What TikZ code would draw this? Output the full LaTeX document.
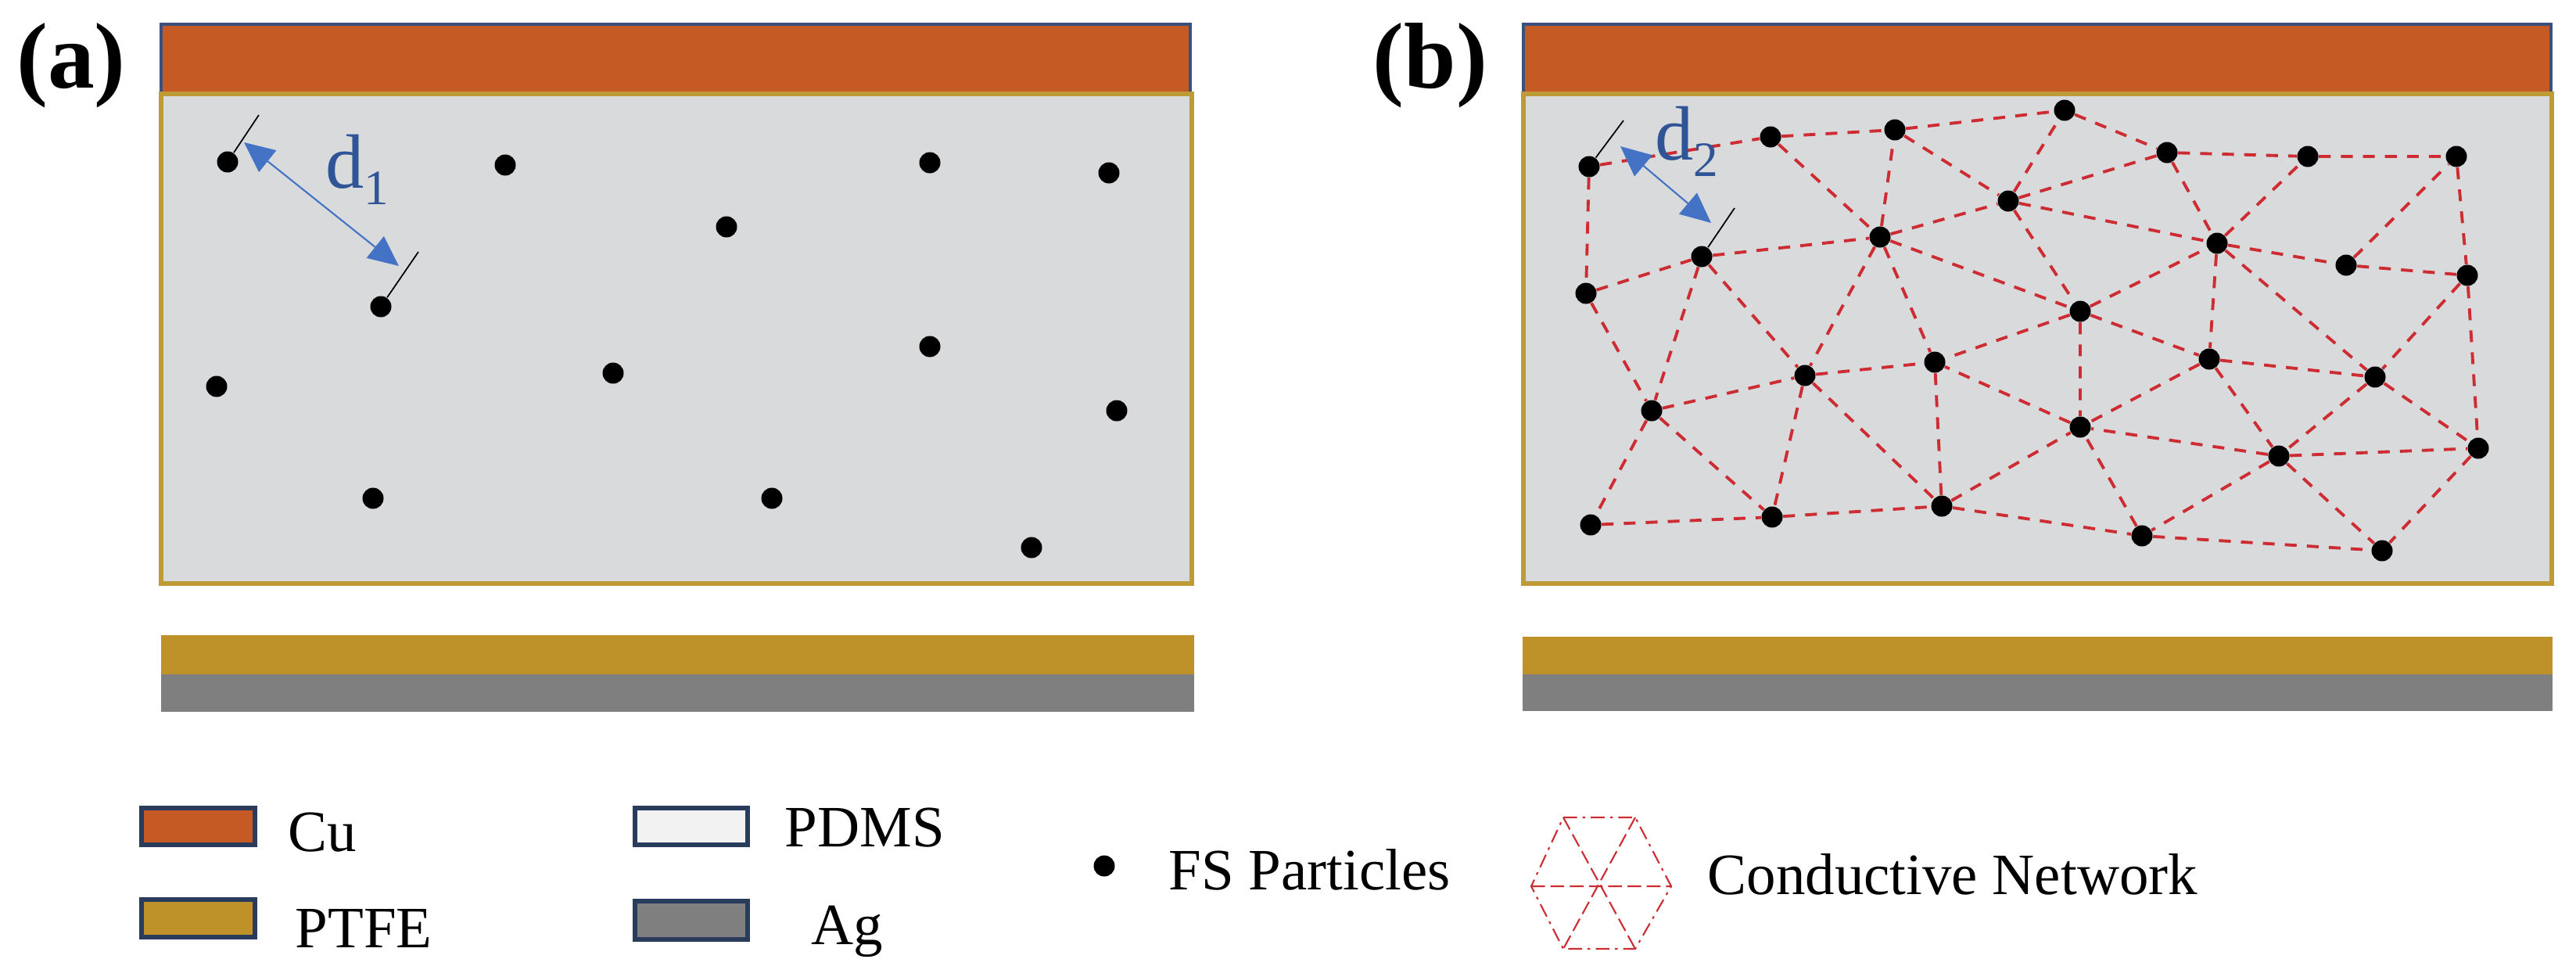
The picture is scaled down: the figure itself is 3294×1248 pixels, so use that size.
\documentclass[tikz,border=0pt]{standalone}
\usepackage{fontspec}
\setmainfont{Liberation Serif}
\usepackage{xcolor}
\usepackage{tikz}
\usetikzlibrary{arrows.meta}
\definecolor{CobreCapa}{RGB}{197,90,36}
\definecolor{TefCapa}{RGB}{190,146,40}
\definecolor{PlataCapa}{RGB}{127,127,127}
\definecolor{MatrizGris}{RGB}{217,218,220}
\definecolor{BordeOro}{RGB}{190,155,55}
\definecolor{BordeAzul}{RGB}{60,80,125}
\definecolor{BordeLeyenda}{RGB}{42,60,92}
\definecolor{AzulFlecha}{RGB}{68,114,196}
\definecolor{AzulTexto}{RGB}{47,85,151}
\definecolor{RojoRed}{RGB}{205,45,50}
\newcommand{\subind}[1]{\raisebox{-6pt}{\fontsize{18}{20}\selectfont #1}}
\tikzset{
  particula/.style={circle,fill=black,inner sep=0pt,minimum size=27*0.01cm},
  enlace/.style={RojoRed,line width=1.1pt,dash pattern=on 4.3pt off 3.7pt},
  tick/.style={black,line width=0.5pt},
  distancia/.style={{Triangle[length=11pt,width=10pt]}-{Triangle[length=11pt,width=10pt]},AzulFlecha,line width=0.6pt},
  muestra/.style={draw=BordeLeyenda,line width=1.6pt},
  leyenda/.style={inner sep=0pt,anchor=base west,font=\fontsize{21.3}{25}\selectfont},
  panel/.style={inner sep=0pt,font=\fontsize{34}{40}\selectfont\bfseries},
  etiqueta/.style={inner sep=0pt,anchor=base west,AzulTexto,font=\fontsize{28}{32}\selectfont},
}
\begin{document}
\begin{tikzpicture}[x=0.01cm,y=-0.01cm,>=Latex]
  \useasboundingbox (0,0) rectangle (3294,1248);
  \node[panel] (la) at (91,84) {(a)};
  \node[panel] (lb) at (1829,84) {(b)};

  \fill[MatrizGris] (206,120) rectangle (1524,746);
  \draw[BordeAzul,line width=1.2pt,fill=CobreCapa] (206,31) rectangle (1522,120);
  \draw[BordeOro,line width=1.8pt] (206,120) rectangle (1524,746);
  \fill[TefCapa] (206,812) rectangle (1527,862);
  \fill[PlataCapa] (206,862) rectangle (1527,910);

  \fill[MatrizGris] (1948,120) rectangle (3263,746);
  \draw[BordeAzul,line width=1.2pt,fill=CobreCapa] (1948,31) rectangle (3262,120);
  \draw[BordeOro,line width=1.8pt] (1948,120) rectangle (3263,746);
  \fill[TefCapa] (1947,814) rectangle (3264,862);
  \fill[PlataCapa] (1947,862) rectangle (3264,909);

  \node[particula] (a1) at (291,207) {};
  \node[particula] (a2) at (646,211) {};
  \node[particula] (a3) at (1189,208) {};
  \node[particula] (a4) at (1418,221) {};
  \node[particula] (a5) at (929,290) {};
  \node[particula] (a6) at (487,392) {};
  \node[particula] (a7) at (277,494) {};
  \node[particula] (a8) at (784,477) {};
  \node[particula] (a9) at (1189,443) {};
  \node[particula] (a10) at (1428,525) {};
  \node[particula] (a11) at (477,637) {};
  \node[particula] (a12) at (987,637) {};
  \node[particula] (a13) at (1319,700) {};

  \coordinate (ta1) at (331,147);
  \coordinate (ta2) at (535,322);
  \coordinate (da1) at (312,182);
  \coordinate (da2) at (510,340);
  \draw[tick] (a1) -- (ta1);
  \draw[tick] (a6) -- (ta2);
  \draw[distancia] (da1) -- (da2);
  \node[etiqueta] (d1) at (416,240) {d\subind{1}};

  \node[particula] (b1) at (2032,213) {};
  \node[particula] (b2) at (2264,175) {};
  \node[particula] (b3) at (2423,166) {};
  \node[particula] (b4) at (2640,141) {};
  \node[particula] (b5) at (2771,195) {};
  \node[particula] (b6) at (2951,200) {};
  \node[particula] (b7) at (3141,200) {};
  \node[particula] (b8) at (2176,328) {};
  \node[particula] (b9) at (2404,303) {};
  \node[particula] (b10) at (2568,257) {};
  \node[particula] (b11) at (2835,311) {};
  \node[particula] (b12) at (3000,339) {};
  \node[particula] (b13) at (3155,352) {};
  \node[particula] (b14) at (2028,375) {};
  \node[particula] (b15) at (2308,480) {};
  \node[particula] (b16) at (2474,463) {};
  \node[particula] (b17) at (2660,398) {};
  \node[particula] (b18) at (2825,459) {};
  \node[particula] (b19) at (3037,482) {};
  \node[particula] (b20) at (2112,525) {};
  \node[particula] (b21) at (2660,546) {};
  \node[particula] (b22) at (2914,583) {};
  \node[particula] (b23) at (3169,573) {};
  \node[particula] (b24) at (2034,671) {};
  \node[particula] (b25) at (2266,661) {};
  \node[particula] (b26) at (2483,647) {};
  \node[particula] (b27) at (2739,685) {};
  \node[particula] (b28) at (3046,704) {};

  \draw[enlace] (b1) -- (b2) (b2) -- (b3) (b3) -- (b4) (b4) -- (b5) (b5) -- (b6) (b6) -- (b7);
  \draw[enlace] (b7) -- (b13) (b1) -- (b14) (b14) -- (b8) (b8) -- (b9) (b9) -- (b3) (b2) -- (b9);
  \draw[enlace] (b3) -- (b10) (b9) -- (b10) (b10) -- (b4) (b10) -- (b5) (b10) -- (b11) (b5) -- (b11);
  \draw[enlace] (b11) -- (b6) (b9) -- (b17) (b10) -- (b17) (b17) -- (b11) (b11) -- (b12) (b12) -- (b7);
  \draw[enlace] (b12) -- (b13) (b13) -- (b19) (b13) -- (b23) (b11) -- (b19) (b11) -- (b18) (b17) -- (b18);
  \draw[enlace] (b17) -- (b21) (b18) -- (b21) (b18) -- (b19) (b18) -- (b22) (b19) -- (b22) (b19) -- (b23);
  \draw[enlace] (b22) -- (b23) (b22) -- (b21) (b22) -- (b27) (b22) -- (b28) (b23) -- (b28) (b27) -- (b28);
  \draw[enlace] (b27) -- (b21) (b21) -- (b16) (b17) -- (b16) (b9) -- (b16) (b9) -- (b15) (b8) -- (b15);
  \draw[enlace] (b8) -- (b20) (b14) -- (b20) (b15) -- (b16) (b20) -- (b15) (b20) -- (b24) (b20) -- (b25);
  \draw[enlace] (b15) -- (b25) (b15) -- (b26) (b16) -- (b26) (b24) -- (b25) (b25) -- (b26);
  \draw[enlace] (b26) -- (b21) (b26) -- (b27);

  \coordinate (tb1) at (2076,154);
  \coordinate (tb2) at (2218,266);
  \coordinate (db1) at (2072,187);
  \coordinate (db2) at (2188,285);
  \draw[tick] (b1) -- (tb1);
  \draw[tick] (b8) -- (tb2);
  \draw[distancia] (db1) -- (db2);
  \node[etiqueta] (d2) at (2116,204) {d\subind{2}};

  \draw[muestra,fill=CobreCapa] (181,1033) rectangle (326,1080);
  \draw[muestra,fill=TefCapa] (181,1150) rectangle (326,1198);
  \draw[muestra,fill=white!95!black] (812,1033) rectangle (956,1080);
  \draw[muestra,fill=PlataCapa] (812,1152) rectangle (956,1201);
  \node[leyenda] (cu) at (368,1088) {Cu};
  \node[leyenda] (ptfe) at (377,1211) {PTFE};
  \node[leyenda] (pdms) at (1003,1082) {PDMS};
  \node[leyenda] (ag) at (1037,1207) {Ag};

  \node[particula] (fs) at (1412,1107) {};
  \node[leyenda] (fst) at (1494,1137) {FS Particles};

  \coordinate (h1) at (1999,1045);
  \coordinate (h2) at (2091,1045);
  \coordinate (h3) at (2137,1133);
  \coordinate (h4) at (2091,1213);
  \coordinate (h5) at (1999,1213);
  \coordinate (h6) at (1958,1133);
  \draw[RojoRed,line width=0.6pt,dash pattern=on 5pt off 2pt on 1pt off 2pt] (h1) -- (h2) -- (h3) -- (h4) -- (h5) -- (h6) -- cycle;
  \draw[RojoRed,line width=0.6pt,dash pattern=on 5pt off 2pt] (h1) -- (h4) (h2) -- (h5) (h6) -- (h3);
  \node[leyenda] (ct) at (2183,1143) {Conductive Network};
\end{tikzpicture}
\end{document}
